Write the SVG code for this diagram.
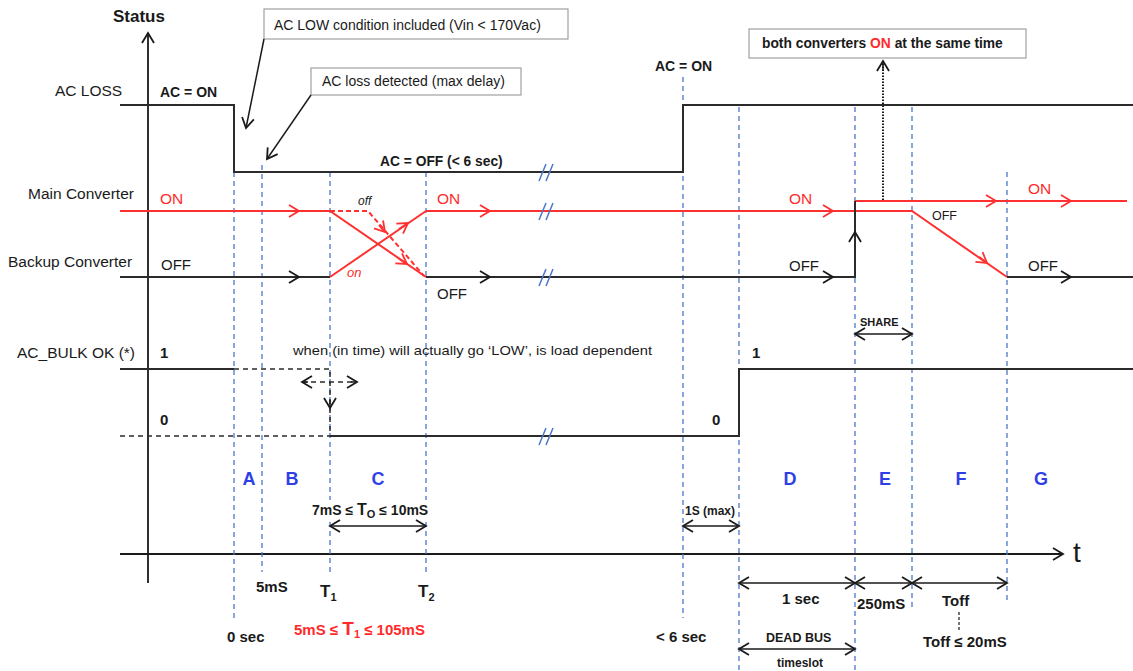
<svg xmlns="http://www.w3.org/2000/svg" width="1133" height="671" viewBox="0 0 1133 671">
<style>
text{font-family:"Liberation Sans",Arial,sans-serif;fill:#1a1a1a}
.b{font-weight:bold}
.lbl{font-size:15.5px}
.red{fill:#ff2b2b}
.blue{fill:#2f3fe8;font-weight:bold;font-size:18px}
.vd{stroke:#4a78c8;stroke-width:1.3;stroke-dasharray:5 4;fill:none}
.sig{stroke:#2b2b2b;stroke-width:2;fill:none}
.rsig{stroke:#ff3030;stroke-width:2;fill:none}
.ax{stroke:#1a1a1a;stroke-width:1.8;fill:none}
.brk{stroke:#4a78c8;stroke-width:1.5}
.box{fill:#fff;stroke:#a0a0a0;stroke-width:1.2}
.thin{stroke:#1a1a1a;stroke-width:1.5;fill:none}
.dash{stroke:#2b2b2b;stroke-width:1.5;stroke-dasharray:5 4;fill:none}
</style>
<defs>
<marker id="ak" markerUnits="userSpaceOnUse" markerWidth="14" markerHeight="14" refX="10" refY="6" orient="auto-start-reverse" overflow="visible"><path d="M0,0 L10,6 L0,12" fill="none" stroke="#1a1a1a" stroke-width="1.8"/></marker>
<marker id="ar" markerUnits="userSpaceOnUse" markerWidth="14" markerHeight="14" refX="10" refY="6" orient="auto-start-reverse" overflow="visible"><path d="M0,0 L10,6 L0,12" fill="none" stroke="#ff3030" stroke-width="1.8"/></marker>
</defs>

<g id="axes">
<path class="ax" d="M148,583 V33" marker-end="url(#ak)"/>
<path class="ax" d="M120,554 H1063" marker-end="url(#ak)"/>
<text x="113" y="22" class="b" font-size="17">Status</text>
<text x="1073" y="562" font-size="28">t</text>
</g>

<g id="time-markers">
<path class="vd" d="M234,172 V618"/>
<path class="vd" d="M262,165 V572"/>
<path class="vd" d="M330,172 V500 M330,522 V572"/>
<path class="vd" d="M426,172 V500 M426,522 V572"/>
<path class="vd" d="M683,77 V618"/>
<path class="vd" d="M739,107 V671"/>
<path class="vd" d="M855,107 V671"/>
<path class="vd" d="M912,107 V610"/>
<path class="vd" d="M1007,172 V602"/>
</g>

<g id="row-labels" class="lbl">
<text x="55" y="96">AC LOSS</text>
<text x="28" y="199">Main Converter</text>
<text x="8" y="267">Backup Converter</text>
<text x="17" y="358">AC_BULK OK (*)</text>
</g>

<g id="ac-loss">
<path class="sig" d="M120,105 H234 V172 H683 V105 H1133"/>
<text x="160" y="97" class="b" font-size="14">AC = ON</text>
<text x="380" y="166" class="b" font-size="13.8">AC = OFF (&lt; 6 sec)</text>
<text x="655" y="71" class="b" font-size="14">AC = ON</text>
</g>

<g id="main-converter">
<path class="rsig" d="M120,211 H330 L426,277"/>
<path class="rsig" d="M289,211 H299" marker-end="url(#ar)"/>
<path class="rsig" d="M398,258 L407,264" marker-end="url(#ar)"/>
<path class="rsig" d="M330,211 H368 L424,276" stroke-dasharray="5 3"/>
<path class="rsig" d="M379,225 L385,232" marker-end="url(#ar)"/>
<path class="rsig" d="M426,211 H912 L1007,277"/>
<path class="rsig" d="M480,211 H490" marker-end="url(#ar)"/>
<path class="rsig" d="M823,211 H833" marker-end="url(#ar)"/>
<path class="rsig" d="M979,257 L987,263" marker-end="url(#ar)"/>
<path class="rsig" d="M855,201 H1127"/>
<path class="rsig" d="M986,201 H996" marker-end="url(#ar)"/>
<path class="rsig" d="M1061,201 H1071" marker-end="url(#ar)"/>
<text x="160" y="204" class="red" font-size="15.5">ON</text>
<text x="437" y="204" class="red" font-size="15.5">ON</text>
<text x="789" y="204" class="red" font-size="15.5">ON</text>
<text x="1028" y="194" class="red" font-size="15.5">ON</text>
<text x="358" y="205" font-size="12" font-style="italic">off</text>
<text x="932" y="220" font-size="12.5">OFF</text>
</g>

<g id="backup-converter">
<path class="sig" d="M120,277 H330"/>
<path class="sig" d="M289,277 H299" marker-end="url(#ak)"/>
<path class="rsig" d="M330,277 L426,211"/>
<path class="rsig" d="M399,229 L408,223" marker-end="url(#ar)"/>
<path class="sig" d="M426,277 H855 V201"/>
<path class="sig" d="M480,277 H490" marker-end="url(#ak)"/>
<path class="sig" d="M823,277 H833" marker-end="url(#ak)"/>
<path class="sig" d="M855,242 V232" marker-end="url(#ak)"/>
<path class="sig" d="M1007,277 H1133"/>
<path class="sig" d="M1061,277 H1071" marker-end="url(#ak)"/>
<text x="161" y="270" font-size="15">OFF</text>
<text x="437" y="299" font-size="15">OFF</text>
<text x="789" y="271" font-size="15">OFF</text>
<text x="1028" y="271" font-size="15">OFF</text>
<text x="347" y="277" class="red" font-size="13" font-style="italic">on</text>
</g>

<g id="ac-bulk-ok">
<path class="sig" d="M120,369 H234"/>
<path class="dash" d="M234,369 H330 V436"/>
<path class="thin" d="M330,400 V408" marker-end="url(#ak)"/>
<path class="dash" d="M302,382 H357"/>
<path class="thin" d="M308,382 H302" marker-end="url(#ak)"/>
<path class="thin" d="M351,382 H357" marker-end="url(#ak)"/>
<path class="dash" d="M120,436 H330"/>
<path class="sig" d="M330,436 H739 V369 H1133"/>
<text x="160" y="358" class="b" font-size="15">1</text>
<text x="160" y="425" class="b" font-size="15">0</text>
<text x="752" y="358" class="b" font-size="15">1</text>
<text x="712" y="425" class="b" font-size="15">0</text>
<text x="293" y="355" font-size="13.5" textLength="359" lengthAdjust="spacingAndGlyphs">when (in time) will actually go ‘LOW’, is load dependent</text>
<text x="860" y="326" class="b" font-size="11">SHARE</text>
<path class="thin" d="M855,334 H912" marker-start="url(#ak)" marker-end="url(#ak)"/>
</g>

<g id="breaks">
<path class="brk" d="M539,181 L546,164 M546,181 L553,164"/>
<path class="brk" d="M539,220 L546,203 M546,220 L553,203"/>
<path class="brk" d="M539,286 L546,269 M546,286 L553,269"/>
<path class="brk" d="M539,445 L546,428 M546,445 L553,428"/>
</g>

<g id="callout-ac-low">
<rect class="box" x="264" y="9" width="304" height="30"/>
<text x="274" y="30" font-size="14">AC LOW condition included (Vin &lt; 170Vac)</text>
<path class="thin" d="M264,39 L246,128" marker-end="url(#ak)"/>
</g>

<g id="callout-ac-loss">
<rect class="box" x="311" y="68" width="210" height="27"/>
<text x="322" y="86" font-size="14">AC loss detected (max delay)</text>
<path class="thin" d="M311,95 L267,159" marker-end="url(#ak)"/>
</g>

<g id="callout-both-on">
<rect class="box" x="749" y="29" width="277" height="29"/>
<text x="762" y="48" class="b" font-size="13.8">both converters <tspan class="red">ON</tspan> at the same time</text>
<path d="M883,200 V61" stroke="#1a1a1a" stroke-width="2" stroke-dasharray="1.5 1.5" fill="none"/>
<path class="thin" d="M883,70 V61" marker-end="url(#ak)"/>
</g>

<g id="phases">
<text x="249" y="485" class="blue" text-anchor="middle">A</text>
<text x="292" y="485" class="blue" text-anchor="middle">B</text>
<text x="378" y="485" class="blue" text-anchor="middle">C</text>
<text x="790" y="485" class="blue" text-anchor="middle">D</text>
<text x="885" y="485" class="blue" text-anchor="middle">E</text>
<text x="961" y="485" class="blue" text-anchor="middle">F</text>
<text x="1041" y="485" class="blue" text-anchor="middle">G</text>
</g>

<g id="timing-labels" class="b">
<text x="312" y="515" font-size="14">7mS ≤ <tspan font-size="16">T</tspan><tspan font-size="11" dy="3">O</tspan><tspan dy="-3"> ≤ 10mS</tspan></text>
<path class="thin" d="M330,526 H426" marker-start="url(#ak)" marker-end="url(#ak)"/>
<text x="685" y="515" font-size="12">1S (max)</text>
<path class="thin" d="M683,526 H739" marker-start="url(#ak)" marker-end="url(#ak)"/>
<text x="256" y="592" font-size="15">5mS</text>
<text x="320" y="597" font-size="17">T<tspan font-size="11" dy="4">1</tspan></text>
<text x="418" y="597" font-size="17">T<tspan font-size="11" dy="4">2</tspan></text>
<text x="227" y="642" font-size="15">0 sec</text>
<text x="294" y="635" font-size="15" class="red">5mS ≤ <tspan font-size="19">T</tspan><tspan font-size="11" dy="3">1</tspan><tspan dy="-3"> ≤ 105mS</tspan></text>
<text x="656" y="642" font-size="15">&lt; 6 sec</text>
<path class="thin" d="M739,583 H855" marker-start="url(#ak)" marker-end="url(#ak)"/>
<path class="thin" d="M855,583 H912" marker-start="url(#ak)" marker-end="url(#ak)"/>
<path class="thin" d="M912,583 H1007" marker-start="url(#ak)" marker-end="url(#ak)"/>
<text x="782" y="604" font-size="15">1 sec</text>
<text x="857" y="609" font-size="15">250mS</text>
<text x="942" y="606" font-size="15">Toff</text>
<path d="M959,612 V630" stroke="#1a1a1a" stroke-width="1.2" stroke-dasharray="3 2"/>
<text x="923" y="647" font-size="15">Toff ≤ 20mS</text>
<text x="766" y="642" font-size="12.5">DEAD BUS</text>
<path class="thin" d="M739,649 H855" marker-start="url(#ak)" marker-end="url(#ak)"/>
<text x="777" y="667" font-size="12">timeslot</text>
</g>
</svg>
